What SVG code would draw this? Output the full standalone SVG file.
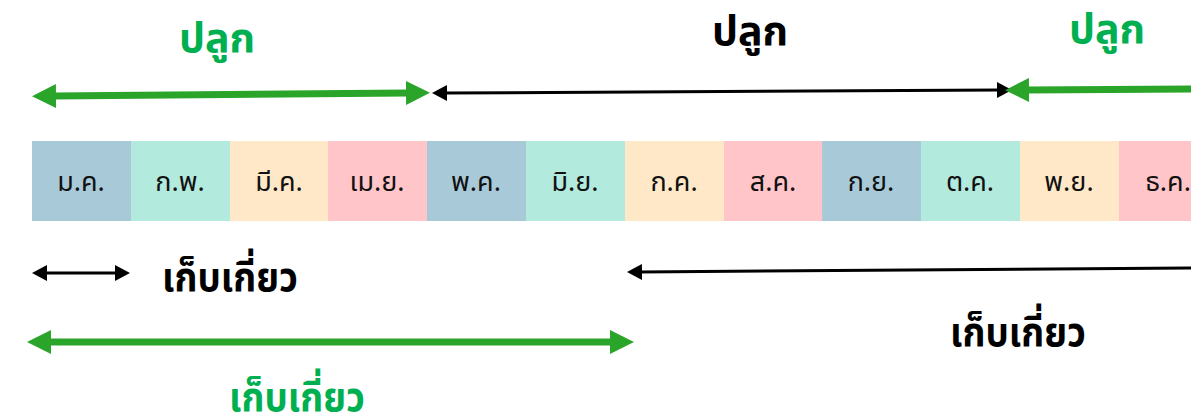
<svg xmlns="http://www.w3.org/2000/svg" width="1191" height="414" viewBox="0 0 1191 414">
<defs>
<style>
.m{font-family:"Noto Sans Thai","Noto Sans","DejaVu Sans",sans-serif;font-size:27px;fill:#111;text-anchor:middle}
.t{font-family:"Noto Sans Thai","Noto Sans","DejaVu Sans",sans-serif;font-size:41px;font-weight:bold;text-anchor:middle}
.g{fill:#00B050}
.k{fill:#000}
.ga{stroke:#2AA52A;stroke-width:7;fill:none}
.ka{stroke:#000;stroke-width:3;fill:none}
</style>
<marker id="gh" viewBox="0 0 24 24" refX="2" refY="12" markerWidth="24" markerHeight="24" orient="auto-start-reverse" markerUnits="userSpaceOnUse"><path d="M0,0L24,12L0,24z" fill="#2AA52A"/></marker>
<marker id="kh" viewBox="0 0 15 16" refX="2" refY="8" markerWidth="15" markerHeight="16" orient="auto-start-reverse" markerUnits="userSpaceOnUse"><path d="M0,0L15,8L0,16z" fill="#000"/></marker>
</defs>
<g id="months">
<g id="m1"><rect x="32" y="141" width="99" height="80" fill="#A8CAD8"/><text class="m" x="81" y="191">ม.ค.</text></g>
<g id="m2"><rect x="131" y="141" width="99" height="80" fill="#B3EADE"/><text class="m" x="180" y="191">ก.พ.</text></g>
<g id="m3"><rect x="230" y="141" width="98" height="80" fill="#FFE8C8"/><text class="m" x="279" y="191">มี.ค.</text></g>
<g id="m4"><rect x="328" y="141" width="99" height="80" fill="#FFC5C8"/><text class="m" x="377" y="191">เม.ย.</text></g>
<g id="m5"><rect x="427" y="141" width="99" height="80" fill="#A8CAD8"/><text class="m" x="476" y="191">พ.ค.</text></g>
<g id="m6"><rect x="526" y="141" width="99" height="80" fill="#B3EADE"/><text class="m" x="575" y="191">มิ.ย.</text></g>
<g id="m7"><rect x="625" y="141" width="99" height="80" fill="#FFE8C8"/><text class="m" x="674" y="191">ก.ค.</text></g>
<g id="m8"><rect x="724" y="141" width="98" height="80" fill="#FFC5C8"/><text class="m" x="773" y="191">ส.ค.</text></g>
<g id="m9"><rect x="822" y="141" width="99" height="80" fill="#A8CAD8"/><text class="m" x="871" y="191">ก.ย.</text></g>
<g id="m10"><rect x="921" y="141" width="99" height="80" fill="#B3EADE"/><text class="m" x="970" y="191">ต.ค.</text></g>
<g id="m11"><rect x="1020" y="141" width="99" height="80" fill="#FFE8C8"/><text class="m" x="1069" y="191">พ.ย.</text></g>
<g id="m12"><rect x="1119" y="141" width="99" height="80" fill="#FFC5C8"/><text class="m" x="1168" y="191">ธ.ค.</text></g>
</g>
<g id="connectors">
<line class="ga" x1="54" y1="96" x2="408" y2="93" marker-start="url(#gh)" marker-end="url(#gh)"/>
<line class="ka" x1="445" y1="93" x2="999" y2="90" marker-start="url(#kh)" marker-end="url(#kh)"/>
<line class="ga" x1="1191" y1="89" x2="1027" y2="90" marker-end="url(#gh)"/>
<line class="ka" x1="45" y1="273" x2="117" y2="273" marker-start="url(#kh)" marker-end="url(#kh)"/>
<line class="ga" x1="49" y1="342" x2="612" y2="342" marker-start="url(#gh)" marker-end="url(#gh)"/>
<line class="ka" x1="1191" y1="268" x2="640" y2="272" marker-end="url(#kh)"/>
</g>
<g id="labels">
<text class="t g" x="217" y="52">ปลูก</text>
<text class="t k" x="750" y="45">ปลูก</text>
<text class="t g" x="1107" y="43">ปลูก</text>
<text class="t k" x="230" y="291" textLength="136" lengthAdjust="spacingAndGlyphs">เก็บเกี่ยว</text>
<text class="t k" x="1018" y="346" textLength="136" lengthAdjust="spacingAndGlyphs">เก็บเกี่ยว</text>
<text class="t g" x="297" y="411" textLength="136" lengthAdjust="spacingAndGlyphs">เก็บเกี่ยว</text>
</g>
</svg>
